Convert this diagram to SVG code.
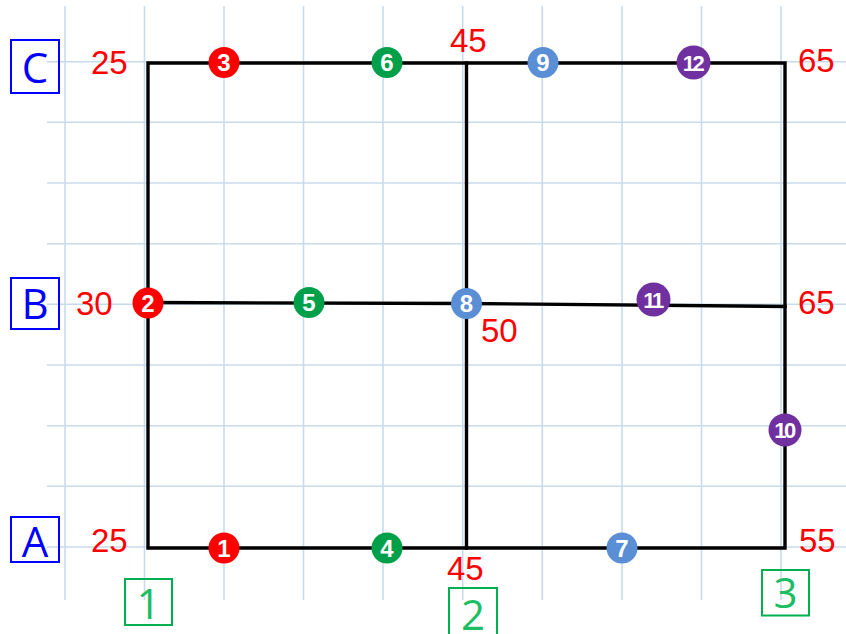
<svg xmlns="http://www.w3.org/2000/svg" width="846" height="634" viewBox="0 0 846 634">
<style>
.grid line{stroke:#c8dbee;stroke-width:1.6}
.edge{stroke:#000;stroke-width:3.4;fill:none;stroke-linecap:square}
.val{font-family:"Liberation Sans",Arial,sans-serif;font-size:33px;fill:#ff0000}
.row rect{fill:none;stroke:#0000ff;stroke-width:2}
.row text{font-family:"Open Sans","Liberation Sans",sans-serif;font-size:42px;fill:#0000ff;text-anchor:middle}
.col rect{fill:none;stroke:#00b050;stroke-width:2}
.col text{font-family:"Open Sans","Liberation Sans",sans-serif;font-size:42px;fill:#1cbd63;text-anchor:middle}
.n text{font-family:"Liberation Sans",Arial,sans-serif;font-weight:bold;font-size:24px;fill:#fff;text-anchor:middle}
.n .dd{font-size:22px;letter-spacing:-2.5px}
.red{fill:#ff0000}.grn{fill:#00a04a}.blu{fill:#5a8fd6}.pur{fill:#7030a0}
</style>
<rect width="846" height="634" fill="#fff"/>
<g class="grid">
<line x1="65" y1="6" x2="65" y2="600"/>
<line x1="144.5" y1="6" x2="144.5" y2="600"/>
<line x1="224" y1="6" x2="224" y2="600"/>
<line x1="303.5" y1="6" x2="303.5" y2="600"/>
<line x1="383" y1="6" x2="383" y2="600"/>
<line x1="462.7" y1="6" x2="462.7" y2="600"/>
<line x1="542.3" y1="6" x2="542.3" y2="600"/>
<line x1="622" y1="6" x2="622" y2="600"/>
<line x1="701.5" y1="6" x2="701.5" y2="600"/>
<line x1="781" y1="6" x2="781" y2="600"/>
<line x1="47" y1="61.7" x2="846" y2="61.7"/>
<line x1="47" y1="122.3" x2="846" y2="122.3"/>
<line x1="47" y1="183" x2="846" y2="183"/>
<line x1="47" y1="243.7" x2="846" y2="243.7"/>
<line x1="47" y1="304.3" x2="846" y2="304.3"/>
<line x1="47" y1="365" x2="846" y2="365"/>
<line x1="47" y1="425.7" x2="846" y2="425.7"/>
<line x1="47" y1="486.3" x2="846" y2="486.3"/>
<line x1="47" y1="547" x2="846" y2="547"/>
</g>
<g id="connectors">
<path class="edge" d="M148 548 V63 H785 V548 Z"/>
<path class="edge" d="M466.5 63 V548"/>
<path class="edge" d="M148 302.5 L466.5 303.5 L785 306.5"/>
</g>
<g id="row-labels" class="row">
<g id="row-C"><rect x="11" y="40" width="48" height="53"/><text x="35" y="83">C</text></g>
<g id="row-B"><rect x="11" y="278" width="48" height="51"/><text x="35" y="318.5">B</text></g>
<g id="row-A"><rect x="11" y="517" width="48" height="45"/><text x="35" y="556.5">A</text></g>
</g>
<g id="col-labels" class="col">
<g id="col-1"><rect x="125" y="579" width="47" height="46"/><text x="148.5" y="619">1</text></g>
<g id="col-2"><rect x="449" y="588" width="48" height="50"/><text x="473" y="630">2</text></g>
<g id="col-3"><rect x="762" y="570" width="47" height="45.5"/><text x="785.5" y="608">3</text></g>
</g>
<g id="values">
<text class="val" x="91" y="74">25</text>
<text class="val" x="450" y="52">45</text>
<text class="val" x="798" y="72">65</text>
<text class="val" x="76" y="315">30</text>
<text class="val" x="481" y="341.5">50</text>
<text class="val" x="798" y="314">65</text>
<text class="val" x="91" y="551.5">25</text>
<text class="val" x="447" y="580">45</text>
<text class="val" x="799" y="551.5">55</text>
</g>
<g id="nodes" class="n">
<g id="n1"><circle class="red" cx="224" cy="548" r="15.5"/><text x="224" y="556.5">1</text></g>
<g id="n2"><circle class="red" cx="148" cy="303" r="15.5"/><text x="148" y="311.5">2</text></g>
<g id="n3"><circle class="red" cx="224" cy="62.5" r="15.5"/><text x="224" y="71">3</text></g>
<g id="n4"><circle class="grn" cx="387" cy="548" r="15.5"/><text x="387" y="556.5">4</text></g>
<g id="n5"><circle class="grn" cx="309" cy="302.5" r="15.5"/><text x="309" y="311">5</text></g>
<g id="n6"><circle class="grn" cx="387" cy="62.5" r="15.5"/><text x="387" y="71">6</text></g>
<g id="n7"><circle class="blu" cx="622" cy="548" r="15.5"/><text x="622" y="556.5">7</text></g>
<g id="n8"><circle class="blu" cx="466.5" cy="303.5" r="15.5"/><text x="466.5" y="312">8</text></g>
<g id="n9"><circle class="blu" cx="543" cy="62.5" r="15.5"/><text x="543" y="71">9</text></g>
<g id="n10"><circle class="pur" cx="785" cy="430" r="16.5"/><text class="dd" x="784" y="438">10</text></g>
<g id="n11"><circle class="pur" cx="653.5" cy="299.5" r="17"/><text class="dd" x="652.5" y="307.5">11</text></g>
<g id="n12"><circle class="pur" cx="693.5" cy="62.5" r="17"/><text class="dd" x="692.5" y="70.5">12</text></g>
</g>
</svg>
